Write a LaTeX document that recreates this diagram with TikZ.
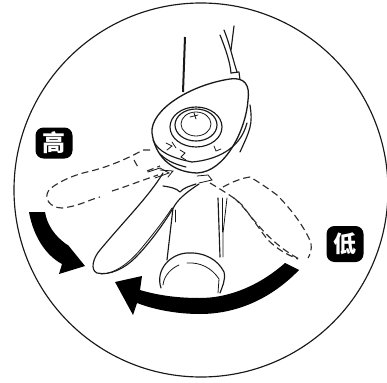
\documentclass[tikz,border=0pt]{standalone}
\usepackage{fontspec}
\newfontfamily\cjk{Noto Sans CJK SC}
\definecolor{inkline}{RGB}{25, 25, 25}
\tikzset{
    outline/.style={draw=inkline, line width=1.15pt, line join=round, line cap=round},
    thinline/.style={draw=inkline, line width=0.8pt, line cap=round},
    ghost/.style={draw=inkline!90, line width=1.15pt, dash pattern=on 7pt off 4pt},
    badge/.style={fill=black, rounded corners=8pt, text=white, font=\cjk\bfseries\fontsize{23}{23}\selectfont,
        minimum width=37pt, minimum height=31pt, inner sep=0pt},
}
\begin{document}
\begin{tikzpicture}[x=1pt, y=-1pt]
    \useasboundingbox (0, 0) rectangle (387, 382);
    \fill[white] (0, 0) rectangle (387, 382);
    % frame
    \draw[outline] (201, 190) circle[radius=187];

    % cables
    \draw[draw=inkline, line width=2pt] (185, 37) -- (183, 92);
    \draw[outline] (220, 35) .. controls (226, 50) and (230, 62) .. (231, 73);
    \draw[outline] (224, 30) .. controls (230, 45) and (233, 60) .. (237, 72);
    \draw[outline] (234, 26) -- (231, 50);
    \draw[outline] (231, 73) -- (239, 72) -- (240, 80);

    % body of the shifter
    \draw[outline, line width=1.3pt, fill=white] (152, 133)
        .. controls (150, 110) and (190, 85) .. (230, 79)
        .. controls (245, 77) and (250, 85) .. (248, 100)
        .. controls (246, 130) and (225, 172) .. (197, 173)
        .. controls (170, 172) and (155, 155) .. (152, 133);
    \draw[outline] (153, 140) .. controls (158, 152) and (172, 158) .. (192, 162);
    \draw[outline] (192, 162) .. controls (215, 160) and (240, 150) .. (247, 123);
    \draw[outline] (160, 154) .. controls (168, 162) and (178, 165) .. (186, 167);
    \draw[outline] (250, 105) .. controls (253, 125) and (250, 130) .. (240, 152);

    % dial
    \draw[outline] (196, 127) ellipse[x radius=26, y radius=20];
    \draw[outline] (196, 125) ellipse[x radius=21, y radius=16];
    \draw[thinline] (196, 124) ellipse[x radius=15, y radius=12];
    \draw[thinline] (190, 117) -- (198, 115) (194, 113) -- (196, 119);
    \draw[thinline] (166, 143) -- (172, 146) -- (167, 150) (172, 142) -- (176, 148);
    \draw[thinline] (180, 150) -- (185, 153) -- (181, 157) -- (186, 160);
    \draw[thinline] (214, 146) -- (216, 151) -- (221, 149);

    % ghost lever, high side
    \draw[ghost] (150, 150) -- (143, 150) .. controls (125, 160) and (105, 168) .. (87, 172)
        .. controls (70, 176) and (55, 184) .. (49, 190)
        .. controls (43, 198) and (50, 208) .. (62, 208)
        .. controls (80, 206) and (88, 200) .. (100, 197);
    \draw[ghost] (112, 191) .. controls (125, 187) and (140, 181) .. (158, 175);
    \draw[ghost] (134, 160) -- (139, 169);
    \draw[ghost] (147, 171) -- (160, 166);

    % ghost lever, low side
    \draw[ghost] (223, 187) .. controls (232, 182) and (242, 178) .. (250, 177)
        .. controls (262, 184) and (270, 190) .. (277, 195)
        .. controls (292, 210) and (305, 228) .. (311, 243)
        .. controls (312, 250) and (310, 255) .. (308, 258);
    \draw[ghost] (210, 183) .. controls (225, 192) and (235, 198) .. (242, 205)
        .. controls (255, 222) and (272, 245) .. (301, 260);
    \draw[ghost] (234, 198) .. controls (248, 210) and (258, 228) .. (268, 240)
        .. controls (278, 250) and (288, 255) .. (298, 259);

    % lever
    \draw[outline, fill=white] (163, 173) .. controls (150, 195) and (125, 220) .. (100, 250)
        .. controls (93, 258) and (90, 270) .. (97, 273)
        .. controls (110, 276) and (125, 268) .. (135, 258)
        .. controls (150, 243) and (165, 222) .. (175, 205)
        .. controls (180, 197) and (190, 190) .. (199, 184);
    \draw[thinline] (101, 274) .. controls (115, 274) and (130, 262) .. (140, 250)
        .. controls (150, 238) and (163, 222) .. (172, 208);
    \draw[outline] (163, 186) .. controls (170, 187) and (176, 188) .. (180, 192)
        .. controls (183, 188) and (190, 186) .. (196, 184);
    \draw[thinline] (148, 172) -- (160, 168) -- (169, 173) -- (155, 178);
    \draw[thinline] (160, 170) -- (173, 171) -- (168, 177);
    \draw[thinline] (197, 176) -- (208, 175) -- (212, 180) -- (199, 183);

    % tube under the lever
    \draw[outline] (173, 208) -- (167, 260);
    \draw[thinline] (175, 210) -- (175, 222);
    \draw[outline] (218, 198) -- (220, 257);
    \draw[thinline] (227, 198) -- (223, 233) -- (223, 257);
    \draw[thinline] (222, 198) -- (222, 232);
    \draw[outline] (161, 288) .. controls (155, 270) and (170, 254) .. (187, 253)
        .. controls (205, 252) and (218, 260) .. (224, 272)
        .. controls (226, 280) and (222, 287) .. (220, 293);
    \draw[thinline] (163, 285) .. controls (164, 275) and (172, 268) .. (179, 265);
    \draw[thinline] (187, 263) .. controls (200, 262) and (212, 268) .. (219, 279)
        -- (218, 293);

    % movement arrows
    \fill[black] (299, 270) .. controls (270, 300) and (235, 314) .. (200, 314)
        .. controls (178, 314) and (155, 310) .. (137, 303)
        -- (133, 315) -- (115, 282) -- (142, 276) -- (140, 290)
        .. controls (160, 296) and (180, 298) .. (200, 298)
        .. controls (230, 298) and (260, 285) .. (285, 263) -- cycle;
    \fill[black] (29, 212) -- (45, 212)
        .. controls (47, 225) and (55, 236) .. (66, 244)
        -- (68, 245) -- (85, 266) -- (59, 274) -- (62, 264)
        .. controls (45, 255) and (33, 235) .. (29, 212) -- cycle;

    % labels
    \node[badge] (high) at (54, 143) {高};
    \node[badge, minimum height=36pt] (low) at (345, 244) {低};
\end{tikzpicture}
\end{document}
